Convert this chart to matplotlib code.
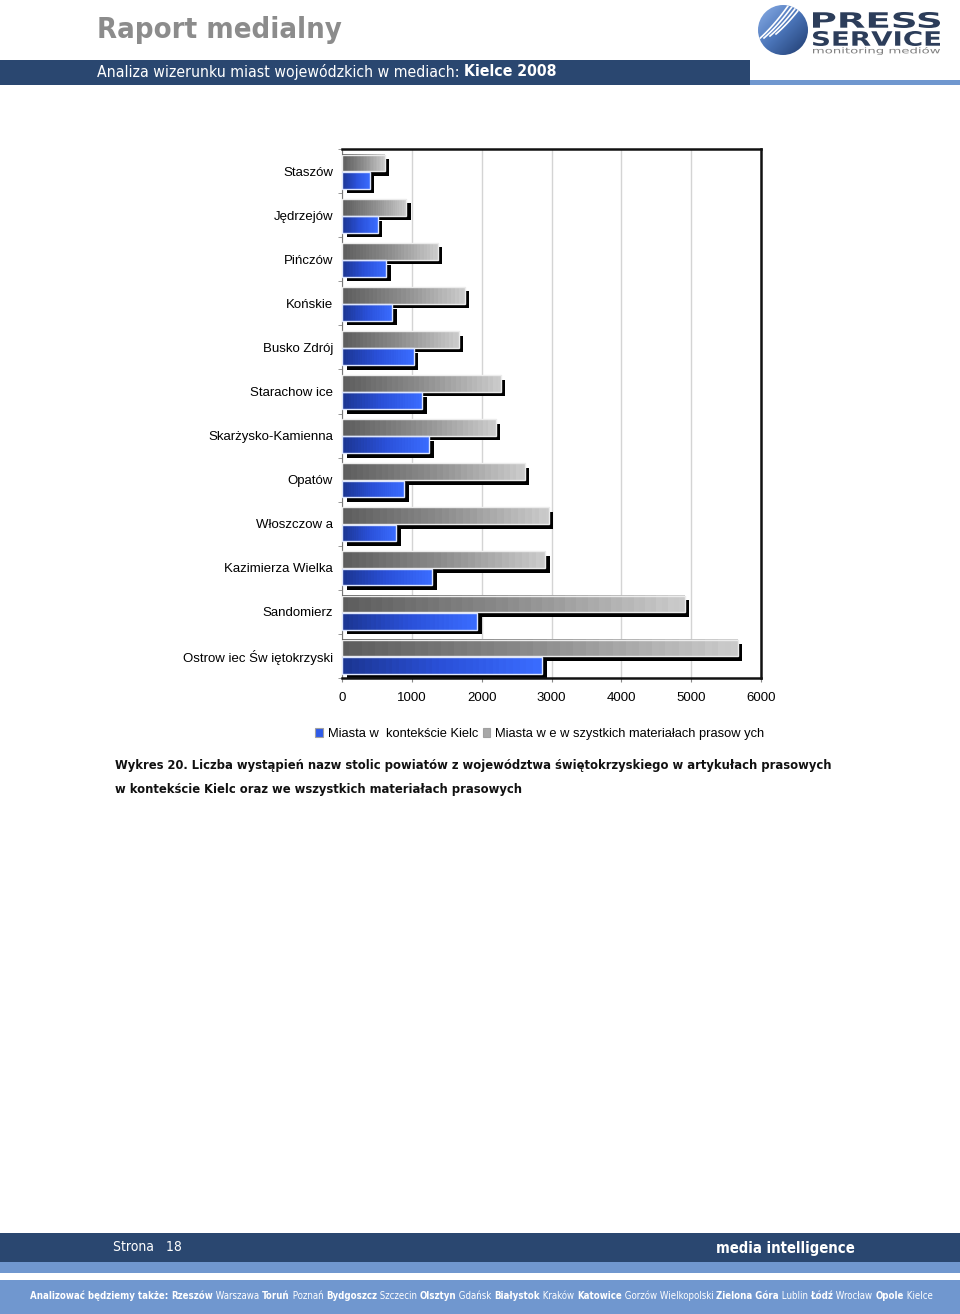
import numpy as np
import matplotlib
matplotlib.use("Agg")
import matplotlib.pyplot as plt
from matplotlib.colors import LinearSegmentedColormap
from matplotlib.patches import Rectangle, Circle, PathPatch
from matplotlib.textpath import TextPath
from matplotlib.font_manager import FontProperties
from matplotlib.transforms import Affine2D, ScaledTranslation

# dane z wykresu
miasta = ["Staszów", "Jędrzejów", "Pińczów", "Końskie", "Busko Zdrój", "Starachow ice",
          "Skarżysko-Kamienna", "Opatów", "Włoszczow a", "Kazimierza Wielka", "Sandomierz",
          "Ostrow iec Św iętokrzyski"]
wszystkie_materialy = [610, 920, 1370, 1760, 1670, 2270, 2200, 2620, 2960, 2910, 4910, 5670]
kontekst_kielc = [400, 515, 635, 720, 1025, 1150, 1250, 890, 775, 1290, 1935, 2870]
x_ticks = [0, 1000, 2000, 3000, 4000, 5000, 6000]

legenda = ["Miasta w  kontekście Kielc", "Miasta w e w szystkich materiałach prasow ych"]
tytul = "Raport medialny"
podpis_1 = "Wykres 20. Liczba wystąpień nazw stolic powiatów z województwa świętokrzyskiego w artykułach prasowych"
podpis_2 = "w kontekście Kielc oraz we wszystkich materiałach prasowych"
stopka = [("Analizować będziemy także: ", "bold"), ("Rzeszów", "bold"), (" Warszawa ", "normal"),
          ("Toruń", "bold"), (" Poznań ", "normal"), ("Bydgoszcz", "bold"), (" Szczecin ", "normal"),
          ("Olsztyn", "bold"), (" Gdańsk ", "normal"), ("Białystok", "bold"), (" Kraków ", "normal"),
          ("Katowice", "bold"), (" Gorzów Wielkopolski ", "normal"), ("Zielona Góra", "bold"),
          (" Lublin ", "normal"), ("Łódź", "bold"), (" Wrocław ", "normal"), ("Opole", "bold"),
          (" Kielce", "normal")]

W, H = 960, 1314
granat = "#2a4770"
jasny_niebieski = "#7097cf"

fig = plt.figure(figsize=(W / 100, H / 100), dpi=100)
fig.patch.set_facecolor("white")

# tlo strony w pikselach
bg = fig.add_axes([0, 0, 1, 1])
bg.set_xlim(0, W)
bg.set_ylim(H, 0)
bg.axis("off")

# naglowek
bg.add_patch(Rectangle((0, 60), 750, 25, color=granat, lw=0))
bg.add_patch(Rectangle((750, 80), 210, 5, color=jasny_niebieski, lw=0))
bg.text(97, 38, tytul, fontsize=21, fontweight="bold", color="#8c8c8c",
        fontstretch="condensed", va="baseline")

renderer = fig.canvas.get_renderer()


def pisz_w_linii(x, y, kawalki, size, color, stretch="condensed"):
    teksty = []
    for tekst, waga in kawalki:
        t = bg.text(x, y, tekst, fontsize=size, fontweight=waga, color=color,
                    fontstretch=stretch, va="center")
        bb = t.get_window_extent(renderer)
        x += bb.width
        teksty.append(t)
    return x, teksty


pisz_w_linii(97, 72, [("Analiza wizerunku miast wojewódzkich w mediach: ", "normal"),
                      ("Kielce 2008", "bold")], 11.3, "white")

# logo
kolo = Circle((783, 30), 25, transform=bg.transData)
grad = np.linspace(0, 1, 64)
gx, gy = np.meshgrid(grad, grad)
logo_cmap = LinearSegmentedColormap.from_list("logo", ["#8aaee6", "#4a74b8", "#1f3b6e"])
im = bg.imshow(gx * 0.5 + gy * 0.5, cmap=logo_cmap, extent=(758, 808, 55, 5), aspect="auto", zorder=2)
im.set_clip_path(kolo)
for k in range(4):
    t = np.linspace(0, 1, 30)
    xs = 758 + k * 6 + 30 * t
    ys = 40 - k * 2 - 34 * t + 8 * t * (1 - t)
    ln, = bg.plot(xs, ys, color="white", lw=1.2, zorder=3)
    ln.set_clip_path(kolo)


def tekst_w_prostokacie(s, x0, y_dol, w, h, color, weight="bold"):
    tp = TextPath((0, 0), s, size=10, prop=FontProperties(family="DejaVu Sans", weight=weight))
    ext = tp.get_extents()
    tr = Affine2D().translate(-ext.x0, -ext.y0).scale(w / ext.width, -h / ext.height).translate(x0, y_dol)
    bg.add_patch(PathPatch(tr.transform_path(tp), color=color, lw=0, zorder=3))


tekst_w_prostokacie("PRESS", 813, 28, 127, 16, "#2c3d5a")
tekst_w_prostokacie("SERVICE", 813, 46, 127, 15, "#2c3d5a")
tekst_w_prostokacie("monitoring mediów", 813, 55, 127, 8, "#808080", weight="normal")

# stopka
bg.add_patch(Rectangle((0, 1233), W, 29, color=granat, lw=0))
bg.add_patch(Rectangle((0, 1262), W, 11, color=jasny_niebieski, lw=0))
bg.add_patch(Rectangle((0, 1280), W, 34, color=jasny_niebieski, lw=0))
bg.text(113, 1247, "Strona   18", fontsize=10, color="white", fontstretch="condensed", va="center")
bg.text(716, 1248, "media intelligence", fontsize=10.6, fontweight="bold", color="white",
        fontstretch="condensed", va="center")

koniec, teksty = pisz_w_linii(30, 1296, stopka, 7, "white")
skala = 900 / (koniec - 30)
for t in teksty:
    t.remove()
pisz_w_linii(30, 1296, stopka, 7 * skala, "white")

# podpis wykresu
bg.text(115, 766, podpis_1, fontsize=9.25, fontweight="bold", color="#111111",
        fontstretch="condensed", va="center")
bg.text(115, 789, podpis_2, fontsize=9.25, fontweight="bold", color="#111111",
        fontstretch="condensed", va="center")

# wykres
ax = fig.add_axes([342 / W, 1 - 678 / H, (761 - 342) / W, (678 - 149) / H])
ax.set_facecolor("white")
y = np.arange(len(miasta))
h = 0.38
y_szary = y - 0.18
y_niebieski = y + 0.21

cien = ax.transData + ScaledTranslation(0.045, -0.045, fig.dpi_scale_trans)
ax.barh(y_szary, wszystkie_materialy, height=h, color="black", transform=cien, zorder=2)
ax.barh(y_niebieski, kontekst_kielc, height=h, color="black", transform=cien, zorder=2)

szary_cmap = LinearSegmentedColormap.from_list("szary", ["#5c5c5c", "#8c8c8c", "#cacaca"])
niebieski_cmap = LinearSegmentedColormap.from_list("niebieski", ["#1b3590", "#2a50d8", "#3a6cff"])
n_pasow = 60
paski = np.linspace(0, 1, n_pasow) + 0.025 * (np.arange(n_pasow) % 2)
paski = np.clip(paski, 0, 1)[None, :]

for yy, v in zip(y_szary, wszystkie_materialy):
    ax.imshow(paski, cmap=szary_cmap, vmin=0, vmax=1, extent=(0, v, yy + h / 2, yy - h / 2),
              aspect="auto", interpolation="nearest", zorder=3)
for yy, v in zip(y_niebieski, kontekst_kielc):
    ax.imshow(paski, cmap=niebieski_cmap, vmin=0, vmax=1, extent=(0, v, yy + h / 2, yy - h / 2),
              aspect="auto", interpolation="nearest", zorder=3)
ax.barh(y_szary, wszystkie_materialy, height=h, fill=False, edgecolor="#ececec", lw=1, zorder=4)
ax.barh(y_niebieski, kontekst_kielc, height=h, fill=False, edgecolor="#dde6ff", lw=1, zorder=4)

ax.set_xlim(0, 6000)
ax.set_ylim(len(miasta) - 0.5, -0.5)
ax.set_xticks(x_ticks)
ax.set_xticklabels([str(t) for t in x_ticks], fontsize=9.5, family="Liberation Sans")
ax.set_yticks(y)
ax.set_yticklabels(miasta, fontsize=9.5, family="Liberation Sans")
ax.set_yticks(np.arange(len(miasta) + 1) - 0.5, minor=True)
ax.tick_params(axis="y", which="major", length=0, pad=6.5)
ax.tick_params(axis="y", which="minor", length=3, color="#888888")
ax.tick_params(axis="x", length=3, color="#888888", pad=7)
ax.grid(axis="x", color="#d4d4d4", lw=1, zorder=0)
ax.set_axisbelow(True)
for s in ["top", "right", "bottom"]:
    ax.spines[s].set_linewidth(1.8)
    ax.spines[s].set_color("#111111")
ax.spines["left"].set_linewidth(0.8)
ax.spines["left"].set_color("#777777")

uchwyty = [Rectangle((0, 0), 1, 1, facecolor="#2f5be8", edgecolor="#a0a0a0", lw=0.8),
           Rectangle((0, 0), 1, 1, facecolor="#a8a8a8", edgecolor="#a0a0a0", lw=0.8)]
fig.legend(uchwyty, legenda, loc="center", bbox_to_anchor=(540 / W, 1 - 734 / H), ncol=2,
           frameon=False, handlelength=0.6, handleheight=0.6, handletextpad=0.4,
           columnspacing=0.3, prop={"family": "Liberation Sans", "size": 9.3})

fig.savefig("out.png", dpi=100)
